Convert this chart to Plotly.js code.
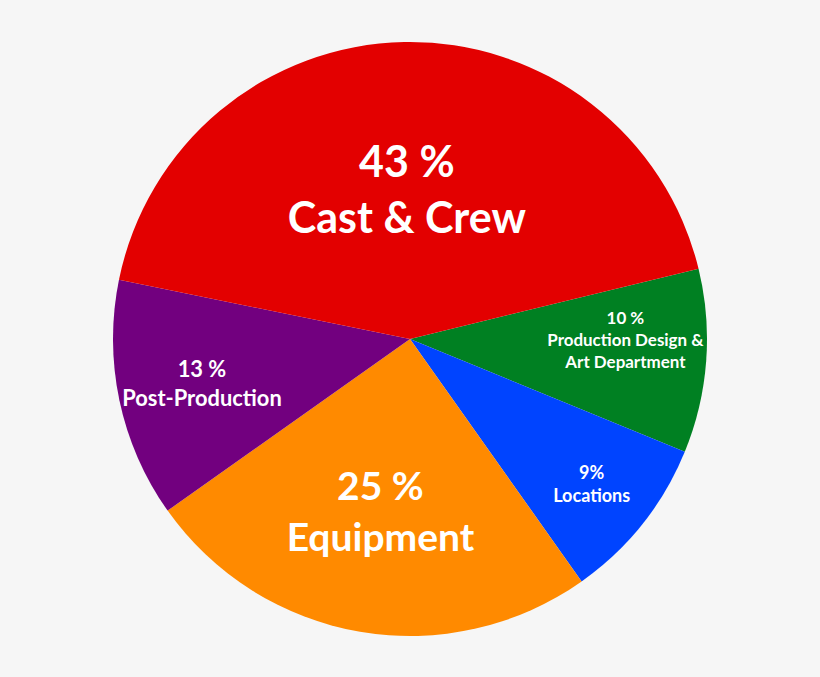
<!DOCTYPE html>
<html lang="en">
<head>
    <meta charset="UTF-8">
    <title>Budget pie</title>
    <script src="https://cdn.plot.ly/plotly-3.0.1.min.js"></script>
    <style>
        body { margin: 0; background: #f6f6f6; }
    </style>
</head>
<body>

<div id="chart"></div>

<script>
    // slices, clockwise from the right side of the red wedge
    let labels = ['Production Design & Art Department', 'Locations', 'Equipment', 'Post-Production', 'Cast & Crew'];
    let values = [10, 9, 25, 13, 43];
    let texts = [
        '10 %<br>Production Design &<br>Art Department',
        '9%<br>Locations',
        '25 %<br>Equipment',
        '13 %<br>Post-Production',
        '43 %<br>Cast & Crew'
    ];
    let colors = ['#008022', '#0044ff', '#ff8a00', '#72007f', '#e30000'];
    let textSizes = [18, 18, 39, 27, 43];

    let trace = {
        type: 'pie',
        labels: labels,
        values: values,
        text: texts,
        textinfo: 'text',
        textposition: 'inside',
        insidetextorientation: 'horizontal',
        sort: false,
        direction: 'clockwise',
        rotation: 76.3,
        hoverinfo: 'label+percent',
        marker: {colors: colors, line: {width: 0}},
        insidetextfont: {
            family: 'Lato, "Noto Sans", sans-serif',
            size: textSizes,
            color: '#ffffff',
            weight: 'bold'
        }
    };

    let layout = {
        width: 820,
        height: 677,
        margin: {l: 113, r: 113, t: 42, b: 41},
        paper_bgcolor: '#f6f6f6',
        showlegend: false
    };

    Plotly.newPlot('chart', [trace], layout, {displayModeBar: false});
</script>

</body>
</html>
